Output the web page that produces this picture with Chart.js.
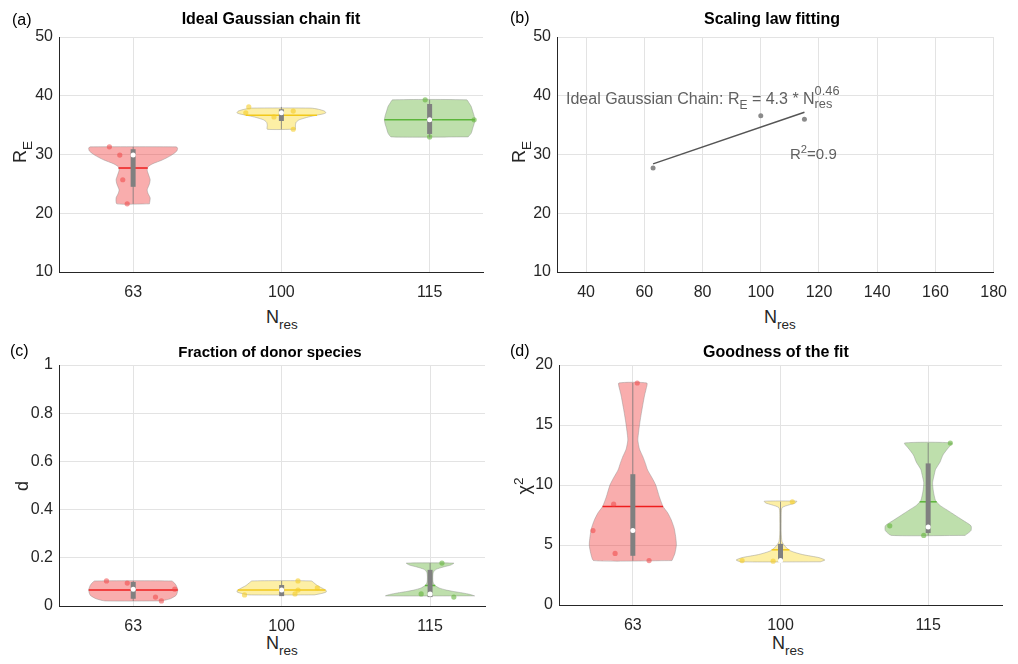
<!DOCTYPE html>
<html>
<head>
<meta charset="utf-8">
<script src="https://cdn.jsdelivr.net/npm/chart.js@4.4.1/dist/chart.umd.min.js"></script>
<style>
body { margin: 0; background: #fff; font-family: 'Liberation Sans', Arial, sans-serif; }
#fig { position: relative; width: 1018px; height: 664px; overflow: hidden; }
canvas { position: absolute; }
.t { position: absolute; white-space: nowrap; line-height: 1; color: #000; }
.ttl { font-weight: bold; font-size: 16px; transform: translateX(-50%); }
.lab { font-size: 16px; }
.ax { font-size: 18px; color: #262626; }
.sub { font-size: 0.75em; position: relative; top: 0.45em; }
.sup { font-size: 0.75em; position: relative; top: -0.5em; }
.rot { transform: translate(-50%, -50%) rotate(-90deg); }
.note { font-size: 15px; color: #606060; }
</style>
</head>
<body>
<div id="fig">
  <canvas id="pa" width="509" height="300" style="left:0;top:0"></canvas>
  <canvas id="pb" width="509" height="300" style="left:509px;top:0"></canvas>
  <canvas id="pc" width="509" height="300" style="left:0;top:332px"></canvas>
  <canvas id="pd" width="509" height="300" style="left:509px;top:332px"></canvas>

  <div class="t lab" style="left:12px;top:12px">(a)</div>
  <div class="t lab" style="left:510px;top:10px">(b)</div>
  <div class="t lab" style="left:10px;top:343px">(c)</div>
  <div class="t lab" style="left:510px;top:343px">(d)</div>

  <div class="t ttl" style="left:271px;top:11px">Ideal Gaussian chain fit</div>
  <div class="t ttl" style="left:772px;top:11px">Scaling law fitting</div>
  <div class="t ttl" style="left:270px;top:344px;font-size:15px">Fraction of donor species</div>
  <div class="t ttl" style="left:776px;top:344px">Goodness of the fit</div>

  <div class="t ax" style="left:266px;top:308px">N<span class="sub">res</span></div>
  <div class="t ax" style="left:764px;top:308px">N<span class="sub">res</span></div>
  <div class="t ax" style="left:266px;top:634px">N<span class="sub">res</span></div>
  <div class="t ax" style="left:772px;top:634px">N<span class="sub">res</span></div>

  <div class="t ax rot" style="left:20px;top:152px">R<span class="sub">E</span></div>
  <div class="t ax rot" style="left:519px;top:152px">R<span class="sub">E</span></div>
  <div class="t ax rot" style="left:22px;top:486px">d</div>
  <div class="t ax rot" style="left:524px;top:486px">χ<span class="sup">2</span></div>

  <div class="t note" style="left:566px;top:86px;font-size:16px">Ideal Gaussian Chain: R<span class="sub">E</span> = 4.3 * N<span style="display:inline-block;vertical-align:middle;font-size:0.8em;line-height:1.05;position:relative;top:-2px"><span style="display:block">0.46</span><span style="display:block">res</span></span></div>
  <div class="t note" style="left:790px;top:146px">R<span class="sup">2</span>=0.9</div>
</div>
<script>
const nres = [63, 100, 115];
const reTicks = [10, 20, 30, 40, 50];
const dTicks = [0, 0.2, 0.4, 0.6, 0.8, 1];
const chiTicks = [0, 5, 10, 15, 20];
const bTicks = [40, 60, 80, 100, 120, 140, 160, 180];

// violin outlines: [value, half width in category units]
const reViolins = [
    [[21.6,0.11],[22.6,0.115],[23.4,0.10],[24.0,0.095],[25.0,0.11],[25.7,0.115],[26.5,0.105],[27.3,0.095],[27.9,0.10],[28.4,0.13],[29.1,0.20],[29.9,0.26],[30.6,0.295],[31.1,0.30],[31.3,0.29]],
    [[34.3,0.095],[35.0,0.095],[35.5,0.10],[35.9,0.12],[36.3,0.17],[36.6,0.22],[36.9,0.28],[37.1,0.30],[37.4,0.29],[37.7,0.25],[37.9,0.2]],
    [[33.0,0.26],[33.6,0.28],[34.4,0.29],[35.2,0.30],[35.9,0.305],[36.6,0.30],[37.4,0.29],[38.2,0.28],[38.8,0.265],[39.3,0.25]]
];
const dViolins = [
    [[0.021,0.19],[0.03,0.25],[0.045,0.29],[0.066,0.30],[0.085,0.29],[0.097,0.275],[0.104,0.26]],
    [[0.046,0.22],[0.052,0.27],[0.058,0.30],[0.064,0.30],[0.072,0.28],[0.085,0.24],[0.095,0.22],[0.104,0.2]],
    [[0.042,0.30],[0.048,0.27],[0.054,0.22],[0.06,0.16],[0.066,0.11],[0.075,0.06],[0.087,0.03],[0.10,0.02],[0.12,0.018],[0.14,0.022],[0.152,0.04],[0.162,0.09],[0.17,0.14],[0.178,0.16]]
];
const chiViolins = [
    [[3.7,0.265],[4.3,0.285],[5.0,0.295],[5.7,0.29],[6.4,0.28],[7.1,0.26],[7.7,0.235],[8.2,0.205],[9.0,0.18],[10.0,0.155],[10.6,0.13],[11.25,0.10],[11.8,0.085],[12.3,0.07],[13.0,0.045],[13.75,0.034],[14.5,0.04],[15.4,0.05],[16.5,0.065],[17.5,0.08],[18.0,0.09],[18.5,0.095]],
    [[3.6,0.27],[3.75,0.30],[3.95,0.26],[4.2,0.15],[4.5,0.07],[4.9,0.03],[5.3,0.01],[6.0,0.005],[7.0,0.005],[8.1,0.01],[8.35,0.06],[8.5,0.10],[8.65,0.11]],
    [[5.8,0.25],[6.2,0.29],[6.6,0.29],[7.1,0.23],[7.5,0.18],[7.9,0.13],[8.3,0.08],[8.7,0.05],[9.5,0.035],[10.2,0.03],[10.8,0.04],[11.3,0.05],[11.9,0.08],[12.5,0.10],[13.0,0.13],[13.5,0.16]]
];

const reMean = [27.7, 36.7, 35.9];
const dMean = [0.066, 0.066, 0.085];
const chiMean = [8.2, 4.6, 8.6];

const reMedian = [29.9, 37.1, 35.9];
const dMedian = [0.07, 0.066, 0.05];
const chiMedian = [6.2, 3.7, 6.5];

const reBox = [[24.5, 30.9], [35.7, 37.7], [33.5, 38.6]];
const dBox = [[0.03, 0.10], [0.041, 0.087], [0.037, 0.15]];
const chiBox = [[4.1, 10.9], [3.7, 5.1], [6.0, 11.8]];

const reWhisk = [[21.6, 31.3], [34.3, 38.1], [33.0, 39.3]];
const dWhisk = [[0.021, 0.104], [0.046, 0.104], [0.037, 0.178]];
const chiWhisk = [[3.7, 18.5], [3.65, 8.6], [5.8, 13.5]];

// raw samples and their horizontal jitter (category units)
const rePts = [[31.3, 29.9, 25.7, 21.6], [38.1, 37.1, 37.4, 36.4, 34.3], [39.3, 33.0, 35.9]];
const reJit = [[-0.16, -0.09, -0.07, -0.04], [-0.22, -0.24, 0.08, -0.05, 0.08], [-0.03, 0, 0.30]];
const dPts = [[0.104, 0.095, 0.037, 0.021, 0.07], [0.046, 0.05, 0.104, 0.066, 0.075], [0.178, 0.05, 0.037]];
const dJit = [[-0.18, -0.04, 0.15, 0.19, 0.28], [-0.25, 0.09, 0.11, 0.11, 0.24], [0.08, -0.06, 0.16]];
const chiPts = [[6.2, 8.4, 4.3, 3.7, 18.5], [3.7, 3.65, 8.6], [6.6, 5.8, 13.5]];
const chiJit = [[-0.27, -0.13, -0.12, 0.11, 0.03], [-0.26, -0.05, 0.08], [-0.26, -0.03, 0.15]];

// scaling law panel
const fitN = [63, 100, 115];
const fitRe = [27.7, 36.6, 36.0];
const lineN = [63, 115];
const lineRe = [28.4, 37.2];

const groupColors = [
    { fill: 'rgba(240,50,50,0.40)', line: 'rgb(238,30,30)', pt: 'rgba(240,70,70,0.55)' },
    { fill: 'rgba(250,215,30,0.40)', line: 'rgb(242,200,26)', pt: 'rgba(245,205,40,0.6)' },
    { fill: 'rgba(110,185,70,0.45)', line: 'rgb(92,181,58)', pt: 'rgba(100,180,60,0.6)' }
];

Chart.defaults.font.family = "'Liberation Sans', Arial, sans-serif";
Chart.defaults.color = '#262626';

function violinShape(cx, prof) {
    const pts = prof.map(p => ({ x: cx + p[1], y: p[0] }));
    for (let i = prof.length - 1; i >= 0; i--) pts.push({ x: cx - prof[i][1], y: prof[i][0] });
    pts.push(pts[0]);
    return pts;
}

function halfWidthAt(prof, v) {
    if (v <= prof[0][0]) return prof[0][1];
    for (let i = 1; i < prof.length; i++) {
        if (v <= prof[i][0]) {
            const t = (v - prof[i - 1][0]) / (prof[i][0] - prof[i - 1][0]);
            return prof[i - 1][1] + t * (prof[i][1] - prof[i - 1][1]);
        }
    }
    return prof[prof.length - 1][1];
}

function axisY(ticks, yWidth) {
    return {
        type: 'linear',
        min: ticks[0],
        max: ticks[ticks.length - 1],
        afterBuildTicks: s => { s.ticks = ticks.map(v => ({ value: v })); },
        afterFit: s => { s.width = yWidth; },
        ticks: { font: { size: 16 }, padding: 6, callback: v => String(v) },
        grid: { color: '#e3e3e3', drawTicks: false },
        border: { display: true, color: '#262626', width: 1 }
    };
}

function violinPanel(id, o) {
    const datasets = [];
    nres.forEach((n, i) => {
        const cx = i + 1;
        const c = groupColors[i];
        const prof = o.violins[i];
        datasets.push({
            data: violinShape(cx, prof), showLine: true, fill: 'shape',
            backgroundColor: c.fill, borderColor: 'rgba(140,140,140,0.55)', borderWidth: 0.8,
            pointRadius: 0, tension: 0.2, order: 10
        });
        const hw = halfWidthAt(prof, o.mean[i]);
        datasets.push({
            data: [{ x: cx - hw, y: o.mean[i] }, { x: cx + hw, y: o.mean[i] }],
            showLine: true, borderColor: c.line, borderWidth: 1.5, pointRadius: 0, order: 8
        });
        datasets.push({
            data: o.pts[i].map((v, k) => ({ x: cx + o.jit[i][k], y: v })),
            pointRadius: 2.6, backgroundColor: c.pt, borderWidth: 0, order: 7
        });
        datasets.push({
            data: [{ x: cx, y: o.whisk[i][0] }, { x: cx, y: o.whisk[i][1] }],
            showLine: true, borderColor: 'rgba(128,128,128,0.8)', borderWidth: 1, pointRadius: 0, order: 5
        });
        datasets.push({
            data: [{ x: cx, y: o.box[i][0] }, { x: cx, y: o.box[i][1] }],
            showLine: true, borderColor: '#808080', borderWidth: 5, borderCapStyle: 'butt', pointRadius: 0, order: 4
        });
        datasets.push({
            data: [{ x: cx, y: o.median[i] }],
            pointRadius: 2.5, backgroundColor: '#ffffff', borderWidth: 0, order: 1
        });
    });

    return new Chart(document.getElementById(id), {
        type: 'scatter',
        data: { datasets },
        options: {
            responsive: false,
            animation: false,
            layout: { padding: { left: 0, top: o.top, right: o.right, bottom: 0 } },
            plugins: { legend: { display: false }, tooltip: { enabled: false } },
            scales: {
                x: {
                    type: 'linear',
                    min: 0.5,
                    max: o.xmax,
                    afterBuildTicks: s => { s.ticks = nres.map((n, i) => ({ value: i + 1 })); },
                    afterFit: s => { s.height = o.xHeight; },
                    ticks: { font: { size: 16 }, padding: 11, callback: (v, i) => String(nres[i]) },
                    grid: { color: '#e3e3e3', drawTicks: false },
                    border: { display: true, color: '#262626', width: 1 }
                },
                y: axisY(o.ticks, o.yWidth)
            }
        }
    });
}

violinPanel('pa', {
    violins: reViolins, mean: reMean, median: reMedian, box: reBox, whisk: reWhisk,
    pts: rePts, jit: reJit, ticks: reTicks,
    top: 37, right: 26, xHeight: 28, yWidth: 59, xmax: 3.36
});

violinPanel('pc', {
    violins: dViolins, mean: dMean, median: dMedian, box: dBox, whisk: dWhisk,
    pts: dPts, jit: dJit, ticks: dTicks,
    top: 33, right: 24, xHeight: 26, yWidth: 59, xmax: 3.37
});

violinPanel('pd', {
    violins: chiViolins, mean: chiMean, median: chiMedian, box: chiBox, whisk: chiWhisk,
    pts: chiPts, jit: chiJit, ticks: chiTicks,
    top: 33, right: 16, xHeight: 27, yWidth: 50, xmax: 3.5
});

new Chart(document.getElementById('pb'), {
    type: 'scatter',
    data: {
        datasets: [
            {
                data: lineN.map((n, i) => ({ x: n, y: lineRe[i] })),
                showLine: true, borderColor: '#555555', borderWidth: 1.5, pointRadius: 0, order: 2
            },
            {
                data: fitN.map((n, i) => ({ x: n, y: fitRe[i] })),
                pointRadius: 2.5, backgroundColor: '#8a8a8a', borderWidth: 0, order: 1
            }
        ]
    },
    options: {
        responsive: false,
        animation: false,
        layout: { padding: { left: 0, top: 37, right: 15, bottom: 0 } },
        plugins: { legend: { display: false }, tooltip: { enabled: false } },
        scales: {
            x: {
                type: 'linear',
                min: 30,
                max: 180,
                afterBuildTicks: s => { s.ticks = bTicks.map(v => ({ value: v })); },
                afterFit: s => { s.height = 28; },
                ticks: { font: { size: 16 }, padding: 11, callback: v => String(v) },
                grid: { color: '#e3e3e3', drawTicks: false },
                border: { display: true, color: '#262626', width: 1 }
            },
            y: axisY(reTicks, 48)
        }
    }
});
</script>
</body>
</html>
